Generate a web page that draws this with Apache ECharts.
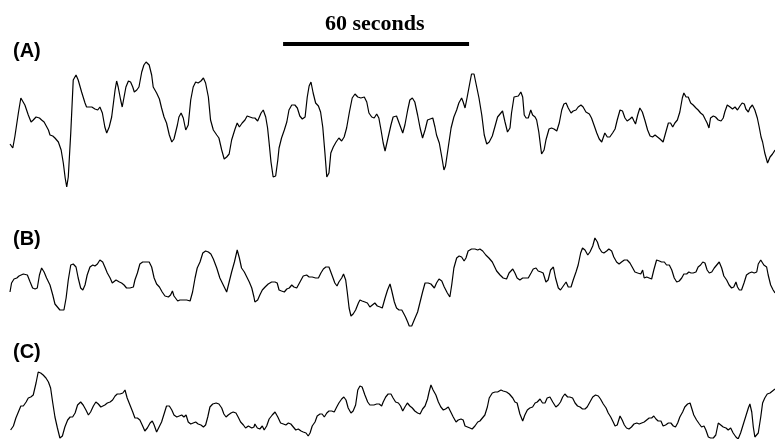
<!DOCTYPE html>
<html>
<head>
<meta charset="utf-8">
<script src="https://cdn.jsdelivr.net/npm/echarts@6/dist/echarts.min.js"></script>
<style>
  html, body { margin: 0; padding: 0; background: #fff; }
  #chart { width: 775px; height: 439px; }
</style>
</head>
<body>
<div id="chart"></div>
<script>
// time in seconds, signal in arbitrary units
var traceA = [
  [0,-19],[0.9,-23],[1.6,-11],[2.7,12],[3.5,27],[4.1,28],[4.8,20],[5.9,10],[6.8,3],[7.5,5],
  [8.4,8],[9.5,7],[10.2,5],[11.0,3],[11.6,4],[12.4,-5],[12.9,-10],[13.8,-11],[14.5,-13],[15.6,-17],
  [16.5,-25],[17.2,-38],[17.8,-53],[18.3,-62],[18.8,-52],[19.6,-8],[20.4,45],[21.3,50],[22.0,45],[23.1,33],
  [24.2,22],[24.7,18],[26.4,18],[27.4,16],[28.3,15],[29.0,18],[29.8,12],[30.6,-2],[31.2,-8],[32.0,-2],
  [32.8,8],[33.9,35],[34.4,44],[34.9,38],[35.7,25],[36.2,18],[36.8,28],[37.4,38],[38.2,44],[38.9,43],
  [39.6,38],[40.1,33],[40.9,35],[41.6,38],[42.5,53],[43.2,60],[43.9,63],[44.4,65],[44.9,60],[45.7,50],
  [46.2,38],[47.3,32],[48.2,26],[48.9,17],[49.7,8],[50.5,2],[51.4,-10],[52.2,-17],[52.9,-14],[53.5,-12],
  [54.0,0],[54.5,8],[55.2,12],[55.9,7],[56.7,-5],[57.5,0],[58.3,25],[59.1,38],[59.9,43],[60.7,42],
  [61.6,44],[62.4,47],[63.1,42],[64.0,28],[64.7,5],[65.6,-5],[66.7,-10],[67.4,-13],[68.3,-25],[69.1,-34],
  [69.9,-32],[70.7,-29],[71.5,-15],[72.6,-4],[73.3,2],[74.0,-2],[74.9,2],[75.8,5],[76.5,9],[77.4,8],
  [78.3,7],[79.0,7],[79.9,4],[81.0,12],[81.7,15],[82.5,8],[83.1,-3],[83.6,-18],[84.2,-37],[84.9,-52],
  [85.7,-51],[86.4,-35],[86.8,-23],[87.6,-13],[88.5,-5],[89.3,3],[90.0,15],[90.9,20],[91.9,20],[92.7,17],
  [93.5,9],[94.3,6],[95.2,8],[95.9,28],[96.5,39],[97.1,43],[97.8,32],[98.6,22],[99.5,19],[100.2,13],
  [100.9,-2],[101.6,-28],[102.2,-52],[102.9,-48],[103.5,-28],[104.3,-22],[105.2,-17],[106.1,-13],[107.0,-16],[107.8,-12],
  [108.6,-3],[109.5,13],[110.4,27],[111.3,31],[112.2,28],[113.2,27],[114.3,28],[115.1,23],[115.8,12],[116.7,8],
  [117.5,7],[118.3,11],[119.0,7],[119.7,-5],[120.4,-18],[121.0,-26],[121.8,-15],[122.9,0],[123.6,8],[124.7,9],
  [125.3,11],[126.0,-2],[126.7,-8],[127.4,0],[128.3,15],[129.0,25],[129.8,27],[130.6,23],[131.5,10],[132.3,-3],
  [133.1,-13],[133.9,-5],[134.7,5],[135.3,7],[136.4,7],[137.1,-2],[137.6,-10],[138.5,-18],[139.3,-32],[140.0,-45],
  [140.5,-41],[141.4,-22],[142.3,-3],[143.2,8],[144.1,15],[144.8,22],[145.7,27],[146.2,23],[146.8,17],[147.5,28],
  [148.4,43],[148.9,51],[149.7,51],[150.3,42],[151.3,27],[152.2,10],[153.0,-10],[153.8,-19],[154.6,-17],[155.6,-11],
  [156.5,-1],[157.3,8],[158.1,11],[158.9,14],[159.7,3],[160.5,-7],[161.3,-3],[161.8,12],[162.6,28],[163.2,30],
  [164.0,29],[164.8,33],[165.4,28],[165.9,10],[166.5,7],[167.2,7],[168.0,15],[168.6,10],[169.4,8],[169.9,5],
  [170.6,-7],[171.2,-22],[171.5,-29],[172.3,-25],[172.9,-15],[173.9,-4],[174.7,-3],[175.5,-4],[176.4,-6],[177.2,2],
  [178.0,15],[178.7,21],[179.4,22],[180.1,17],[181.0,12],[181.7,14],[182.6,15],[183.3,18],[184.2,20],[184.9,18],
  [185.8,13],[186.9,11],[187.6,7],[188.4,0],[189.3,-8],[190.1,-14],[190.9,-17],[191.4,-15],[191.9,-8],[192.7,-12],
  [193.5,-12],[194.4,-8],[195.2,-4],[195.9,5],[196.8,15],[197.6,14],[198.4,7],[199.1,4],[200.0,6],[200.7,8],
  [201.3,4],[201.8,1],[202.5,10],[203.2,17],[204.0,13],[204.8,5],[205.7,-5],[206.5,-11],[207.3,-12],[208.1,-10],
  [208.9,-12],[209.7,-14],[210.7,-17],[211.5,-8],[212.4,2],[213.1,2],[213.8,-2],[214.5,2],[215.3,5],[216.1,13],
  [216.9,27],[217.4,32],[218.1,28],[218.8,28],[219.6,22],[220.4,20],[221.3,17],[222.0,15],[222.8,12],[223.6,10],
  [224.4,5],[224.9,2],[225.5,-3],[226.0,7],[226.9,9],[227.6,8],[228.5,5],[229.4,4],[230.1,7],[230.6,13],
  [231.4,20],[232.3,18],[233.1,16],[233.9,18],[234.7,15],[235.5,19],[236.2,22],[236.9,21],[237.4,16],[238.2,13],
  [238.7,17],[239.5,20],[240.3,15],[241.1,7],[241.7,-2],[242.3,-12],[242.8,-17],[243.5,-28],[244.4,-38],[245.2,-32],
  [246.0,-29],[246.8,-25]
];

var traceB = [
  [0,-7],[0.5,2],[1.3,6],[2.2,7],[2.9,9],[3.5,11],[4.3,11],[4.8,12],[5.6,10],[6.5,3],
  [7.3,-3],[8.1,-4],[8.8,-3],[9.5,10],[10.2,17],[11.0,13],[11.8,7],[12.9,0],[13.8,-10],[14.5,-19],
  [15.3,-22],[16.1,-25],[16.7,-27],[17.4,-25],[18.1,-13],[18.8,5],[19.6,20],[20.4,21],[21.3,18],[22.0,7],
  [22.8,-3],[23.5,-5],[24.2,0],[24.9,10],[25.8,18],[26.7,20],[27.4,19],[28.2,21],[29.0,25],[29.9,23],
  [30.6,18],[31.4,12],[32.3,7],[33.0,2],[33.6,0],[34.2,5],[34.7,7],[35.3,3],[36.0,2],[36.8,0],
  [37.6,-3],[38.7,-3],[39.8,-2],[40.3,5],[41.1,12],[41.9,21],[42.8,23],[43.9,23],[44.9,23],[45.7,18],
  [46.5,7],[47.3,1],[48.2,-2],[49.1,-7],[50.0,-11],[51.1,-12],[51.8,-10],[52.4,-6],[52.9,-11],[53.5,-13],
  [54.1,-16],[54.8,-15],[55.9,-15],[57.0,-15],[58.1,-16],[58.9,-7],[59.7,7],[60.4,17],[61.3,23],[62.2,32],
  [63.1,34],[64.0,33],[64.8,31],[65.6,26],[66.7,17],[67.7,7],[68.8,0],[69.9,-7],[70.7,3],[71.5,13],
  [72.4,23],[73.3,35],[74.0,27],[74.7,17],[75.6,13],[76.4,8],[77.2,3],[78.0,-3],[78.7,-12],[79.0,-17],
  [79.9,-15],[80.6,-10],[81.4,-5],[82.3,-2],[83.3,1],[84.4,3],[85.5,3],[86.2,2],[86.8,-5],[87.6,-6],
  [88.5,-7],[89.3,-4],[90.1,-3],[90.9,0],[91.6,-2],[92.5,-3],[93.2,1],[93.9,5],[94.6,9],[95.7,10],
  [96.5,8],[97.5,8],[98.6,7],[99.5,7],[100.3,12],[101.1,16],[101.9,18],[102.9,18],[103.5,17],[104.1,8],
  [104.8,2],[105.5,-1],[106.1,3],[107.0,7],[107.6,11],[108.3,5],[108.8,-7],[109.4,-23],[110.0,-31],[110.7,-29],
  [111.5,-25],[112.4,-18],[112.9,-15],[113.6,-16],[114.5,-17],[115.3,-18],[116.1,-22],[116.9,-20],[117.7,-18],[118.5,-21],
  [119.4,-22],[120.1,-23],[121.0,-13],[121.8,-5],[122.6,1],[123.1,-5],[124.0,-17],[124.7,-23],[125.5,-25],[126.4,-25],
  [127.1,-29],[127.6,-32],[128.3,-37],[128.8,-41],[129.6,-41],[130.4,-35],[131.5,-27],[132.3,-17],[133.1,-7],[133.9,2],
  [134.9,2],[135.8,1],[136.9,-3],[137.6,2],[138.4,6],[139.3,4],[140.1,-2],[141.1,-8],[141.9,-12],[142.5,0],
  [143.2,17],[144.1,27],[144.9,29],[145.7,28],[146.5,24],[147.1,27],[147.8,34],[148.9,36],[150.0,36],[150.9,35],
  [151.6,36],[152.5,34],[153.5,30],[154.5,27],[155.6,23],[156.2,21],[157.0,14],[158.1,10],[159.1,7],[160.2,6],
  [161.0,12],[161.3,14],[162.2,16],[162.9,12],[163.6,7],[164.5,5],[165.4,7],[166.5,7],[167.2,7],[168.1,12],
  [168.8,16],[169.7,17],[170.4,14],[171.3,13],[172.0,12],[172.9,3],[173.6,5],[174.4,15],[175.3,18],[176.0,7],
  [176.9,-3],[177.6,-5],[178.5,-1],[179.4,3],[180.1,-2],[181.0,-2],[181.7,5],[182.6,13],[183.3,20],[184.1,32],
  [184.7,37],[185.5,35],[186.4,30],[187.1,33],[188.0,39],[188.7,47],[189.5,43],[190.1,37],[190.9,33],[191.6,32],
  [192.5,34],[193.2,36],[194.1,34],[194.8,28],[195.7,23],[196.5,21],[197.3,23],[198.2,25],[199.1,25],[200.0,22],
  [200.9,17],[201.6,13],[202.5,12],[203.5,11],[204.1,15],[204.6,7],[205.4,8],[206.2,7],[207.0,6],[207.7,15],
  [208.6,25],[209.5,24],[210.2,23],[211.1,23],[211.8,20],[212.7,20],[213.5,15],[214.3,7],[215.1,3],[215.9,4],
  [216.7,7],[217.4,11],[218.3,11],[219.0,13],[219.7,12],[220.4,12],[221.3,13],[222.0,18],[222.8,20],[223.5,23],
  [224.2,22],[224.9,15],[225.6,12],[226.4,13],[227.2,17],[228.0,20],[228.8,23],[229.6,17],[230.3,9],[231.2,5],
  [232.0,0],[232.8,-3],[233.5,-2],[234.2,3],[234.7,-2],[235.3,-5],[236.0,-5],[236.8,2],[237.6,10],[238.5,12],
  [239.3,13],[240.1,12],[240.9,13],[241.4,21],[242.2,25],[242.7,27],[243.2,20],[244.1,18],[244.6,10],[245.4,0],
  [246.2,-5],[246.8,-8]
];

var traceC = [
  [0.2,-15],[1.1,-11],[1.9,-3],[2.7,3],[3.5,9],[4.3,9],[5.2,13],[5.9,17],[6.7,18],[7.5,20],
  [8.4,32],[9.1,43],[9.9,42],[10.7,40],[11.6,37],[12.4,33],[13.1,27],[13.8,12],[14.5,-2],[15.3,-13],
  [16.1,-23],[16.9,-21],[17.7,-12],[18.6,-5],[19.4,-2],[20.2,-2],[21.0,2],[21.8,10],[22.8,13],[23.6,10],
  [24.5,5],[25.3,0],[26.0,3],[26.9,9],[27.7,13],[28.5,11],[29.3,8],[29.9,7],[30.6,10],[31.4,12],
  [32.3,13],[33.1,15],[33.9,19],[34.6,21],[35.5,21],[36.4,22],[37.1,25],[37.8,17],[38.7,10],[39.6,3],
  [40.3,-3],[41.1,-3],[41.9,-5],[42.8,-11],[43.5,-16],[44.3,-13],[45.2,-8],[45.9,-6],[46.5,-10],[47.3,-17],
  [48.1,-12],[48.9,-7],[49.8,2],[50.5,9],[51.4,9],[52.2,5],[52.9,0],[53.8,-2],[54.6,-1],[55.4,0],
  [56.1,-2],[56.8,0],[57.5,-7],[58.3,-9],[59.1,-8],[59.9,-7],[60.7,-9],[61.6,-10],[62.4,-12],[63.1,-10],
  [63.8,-2],[64.5,8],[65.4,11],[66.5,12],[67.4,11],[68.3,7],[69.0,1],[69.7,-2],[70.4,0],[71.3,2],
  [72.0,3],[72.9,2],[73.6,-2],[74.4,-7],[75.3,-10],[76.0,-13],[76.9,-11],[77.4,-10],[78.0,-13],[78.7,-12],
  [79.0,-9],[79.8,-13],[80.6,-14],[81.4,-11],[82.0,-15],[82.8,-11],[83.6,-4],[84.6,0],[85.5,3],[86.4,-2],
  [87.3,-8],[88.2,-9],[89.0,-10],[89.8,-8],[90.6,-9],[91.4,-12],[92.2,-15],[93.0,-14],[93.9,-16],[94.6,-17],
  [95.5,-18],[96.2,-21],[96.8,-18],[97.5,-11],[98.4,-7],[99.1,-1],[100.0,1],[100.7,1],[101.4,-2],[102.2,2],
  [102.9,4],[103.8,4],[104.6,3],[105.4,8],[106.1,12],[107.0,16],[107.7,18],[108.4,15],[109.1,7],[110.0,2],
  [110.7,4],[111.5,10],[112.2,25],[112.9,29],[113.6,28],[114.5,20],[115.4,13],[116.1,10],[116.7,8],[117.4,10],
  [118.3,11],[119.1,11],[119.9,9],[120.4,13],[121.2,18],[122.0,21],[122.9,21],[123.6,17],[124.4,13],[125.3,12],
  [126.0,9],[126.7,4],[127.4,8],[128.2,12],[129.0,9],[129.8,7],[130.6,4],[131.5,2],[132.3,1],[133.1,6],
  [133.9,9],[134.7,16],[135.2,23],[135.8,30],[136.5,25],[137.4,20],[138.2,13],[139.0,8],[139.8,5],[140.5,6],
  [141.4,8],[142.2,3],[143.0,-2],[143.9,-7],[144.6,-5],[145.5,-4],[146.2,-5],[146.8,-11],[147.6,-12],[148.4,-13],
  [149.1,-14],[150.0,-11],[150.9,-7],[151.6,-6],[152.4,-3],[153.2,0],[154.0,8],[154.6,17],[155.6,22],[156.5,23],
  [157.3,23],[158.4,25],[159.1,24],[160.2,23],[161.1,21],[161.3,20],[162.2,17],[162.9,13],[163.6,12],[164.5,1],
  [165.4,-6],[166.1,0],[166.9,5],[167.7,7],[168.6,8],[169.4,12],[170.1,13],[171.0,16],[171.8,12],[172.6,12],
  [173.3,17],[174.2,18],[175.1,13],[176.1,8],[176.9,10],[177.6,13],[178.3,18],[179.0,21],[179.9,18],[180.6,18],
  [181.5,17],[182.3,12],[183.1,9],[183.9,8],[184.7,6],[185.5,6],[186.2,8],[187.1,13],[188.0,18],[188.9,20],
  [189.8,19],[190.5,16],[191.4,11],[192.3,7],[193.0,2],[193.8,-2],[194.6,-7],[195.2,-11],[195.9,-10],[196.8,-1],
  [197.5,-5],[198.2,-10],[198.9,-13],[199.7,-14],[200.5,-12],[201.3,-9],[202.2,-8],[203.0,-9],[203.8,-8],[204.6,-7],
  [205.4,-5],[206.2,-3],[207.0,-3],[207.7,-1],[208.4,-4],[209.1,-6],[210.0,-6],[210.7,-11],[211.5,-10],[212.4,-8],
  [213.2,-8],[214.0,-11],[214.7,-12],[215.4,-8],[216.1,-2],[217.0,3],[217.7,8],[218.6,11],[219.4,12],[219.9,7],
  [220.6,0],[221.5,-5],[222.4,-9],[223.1,-12],[223.9,-11],[224.5,-15],[225.3,-22],[226.0,-23],[226.9,-23],[227.7,-20],
  [228.5,-8],[229.3,-10],[230.1,-12],[231.0,-13],[231.7,-15],[232.5,-13],[233.3,-18],[234.2,-22],[234.9,-24],[235.7,-18],
  [236.5,-10],[237.4,-1],[238.2,7],[238.7,11],[239.3,3],[239.8,-12],[240.3,-22],[240.9,-23],[241.4,-18],[242.2,-2],
  [242.8,12],[243.5,17],[244.3,21],[245.2,22],[246.0,24],[246.8,26]
];

// scale bar: 60 s, drawn on the time axis of trace A
var scaleBarStart = 88.1;
var scaleBarEnd = 148.1;
var scaleBarLevel = 81;
var scaleBarText = '60 seconds';
var panelLabels = ['(A)', '(B)', '(C)'];

var duration = 246.8;

var chart = echarts.init(document.getElementById('chart'));

function hiddenX(idx) {
  return { type: 'value', gridIndex: idx, min: 0, max: duration, show: false };
}
function hiddenY(idx, min, max) {
  return { type: 'value', gridIndex: idx, min: min, max: max, show: false };
}
function trace(idx, data) {
  return {
    type: 'line',
    xAxisIndex: idx,
    yAxisIndex: idx,
    data: data,
    symbol: 'none',
    silent: true,
    lineStyle: { color: '#000', width: 1.2 }
  };
}

var labelTops = [41, 229, 342];

chart.setOption({
  animation: false,
  backgroundColor: '#fff',
  grid: [
    { left: 10, right: 0, top: 30, height: 170 },
    { left: 10, right: 0, top: 225, height: 110 },
    { left: 10, right: 0, top: 355, height: 84 }
  ],
  xAxis: [hiddenX(0), hiddenX(1), hiddenX(2)],
  yAxis: [hiddenY(0, -75, 95), hiddenY(1, -50, 60), hiddenY(2, -24, 60)],
  graphic: [
    {
      type: 'text',
      left: 325,
      top: 13,
      style: {
        text: scaleBarText,
        font: 'bold 22px "Liberation Serif", "Times New Roman", serif',
        fill: '#000'
      }
    }
  ].concat(panelLabels.map(function (t, i) {
    return {
      type: 'text',
      left: 13,
      top: labelTops[i],
      style: {
        text: t,
        font: 'bold 20px "Liberation Sans", Arial, sans-serif',
        fill: '#000'
      }
    };
  })),
  series: [
    trace(0, traceA),
    trace(1, traceB),
    trace(2, traceC),
    {
      type: 'line',
      xAxisIndex: 0,
      yAxisIndex: 0,
      data: [[scaleBarStart, scaleBarLevel], [scaleBarEnd, scaleBarLevel]],
      symbol: 'none',
      silent: true,
      lineStyle: { color: '#000', width: 4, cap: 'butt' }
    }
  ]
});
</script>
</body>
</html>
